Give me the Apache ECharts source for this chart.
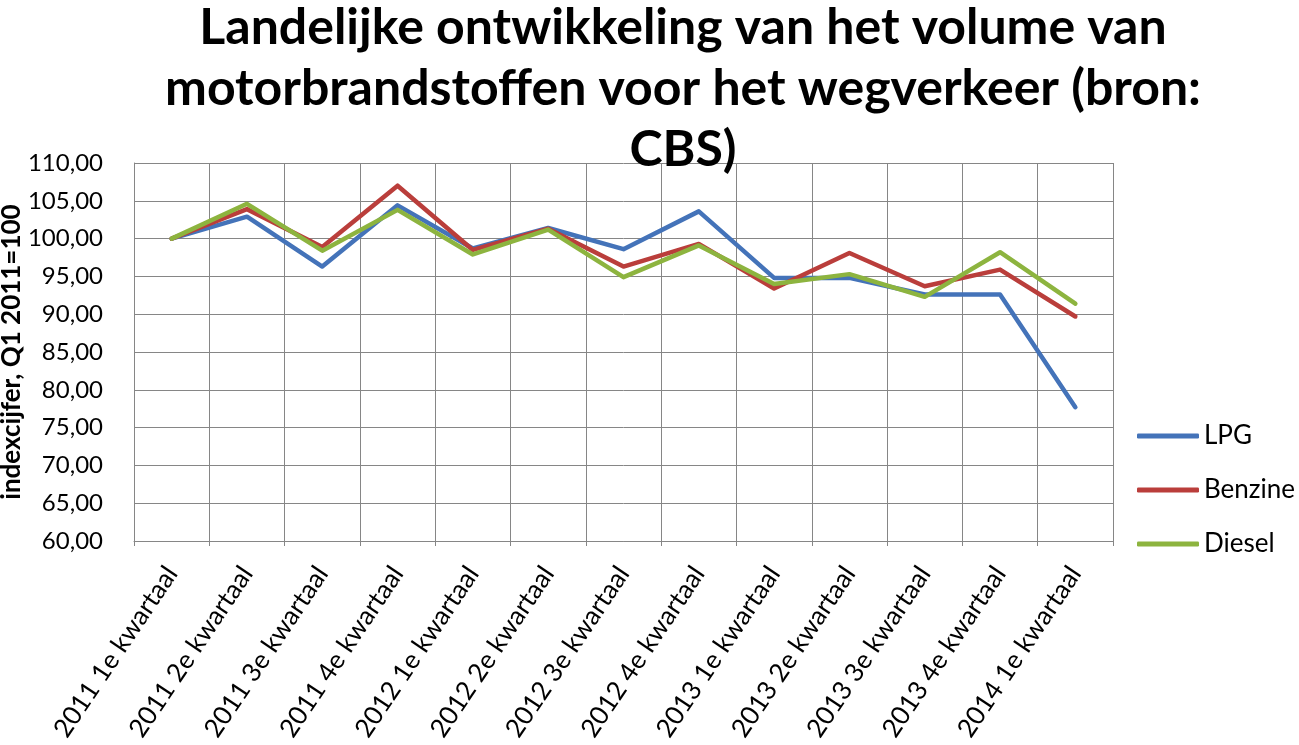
<!DOCTYPE html>
<html>
<head>
<meta charset="utf-8">
<script src="https://cdn.jsdelivr.net/npm/echarts@6/dist/echarts.min.js"></script>
<style>html,body{margin:0;padding:0;background:#fff}#c{width:1299px;height:745px}</style>
</head>
<body>
<div id="c"></div>
<script>
const categories = ['2011 1e kwartaal','2011 2e kwartaal','2011 3e kwartaal','2011 4e kwartaal','2012 1e kwartaal','2012 2e kwartaal','2012 3e kwartaal','2012 4e kwartaal','2013 1e kwartaal','2013 2e kwartaal','2013 3e kwartaal','2013 4e kwartaal','2014 1e kwartaal'];
const lpg     = [100.0, 102.9, 96.3, 104.4, 98.7, 101.4, 98.6, 103.6, 94.8, 94.8, 92.6, 92.6, 77.7];
const benzine = [100.0, 103.9, 98.9, 107.0, 98.5, 101.3, 96.3, 99.3, 93.4, 98.1, 93.7, 95.9, 89.7];
const diesel  = [100.0, 104.6, 98.4, 103.8, 97.9, 101.2, 94.9, 99.1, 94.0, 95.3, 92.3, 98.2, 91.4];
const yTicks = { min: 60, max: 110, interval: 5 };
const titleText = 'Landelijke ontwikkeling van het volume van\nmotorbrandstoffen voor het wegverkeer (bron:\nCBS)';
const yName = 'indexcijfer, Q1 2011=100';

const font = 'Lato, "Open Sans", sans-serif';
const chart = echarts.init(document.getElementById('c'), null, { renderer: 'canvas' });
const mk = (name, data, color) => ({
  name, type: 'line', data, symbol: 'none', smooth: false,
  lineStyle: { width: 4.5, color, cap: 'round', join: 'round' },
  itemStyle: { color }
});
chart.setOption({
  animation: false,
  backgroundColor: '#fff',
  title: {
    text: titleText,
    left: 678, top: -8, textAlign: 'center',
    textStyle: { fontFamily: font, fontWeight: 'bold', fontSize: 50, lineHeight: 61, color: '#000' }
  },
  legend: {
    orient: 'vertical', left: 1137, top: 422, padding: 0,
    itemWidth: 62, itemHeight: 5, itemGap: 26, icon: 'roundRect',
    textStyle: { fontFamily: font, fontSize: 26, color: '#000', lineHeight: 28 },
    data: ['LPG', 'Benzine', 'Diesel']
  },
  grid: { left: 134, top: 163, right: 186, bottom: 204, containLabel: false, outerBoundsMode: 'none' },
  xAxis: {
    type: 'category', data: categories, boundaryGap: true,
    axisLine: { show: true, lineStyle: { color: '#868686', width: 1 } },
    axisTick: { show: true, length: 5, lineStyle: { color: '#868686' } },
    splitLine: { show: true, lineStyle: { color: '#868686', width: 1 } },
    axisLabel: { rotate: 56, margin: 28, interval: 0, fontFamily: font, fontSize: 26, color: '#000' }
  },
  yAxis: {
    type: 'value', min: yTicks.min, max: yTicks.max, interval: yTicks.interval,
    name: yName, nameLocation: 'middle', nameRotate: 90, nameGap: 109, nameMoveOverlap: false,
    nameTextStyle: { fontFamily: font, fontWeight: 'bold', fontSize: 26, color: '#000' },
    axisLine: { show: true, lineStyle: { color: '#868686', width: 1 } },
    axisTick: { show: false },
    splitLine: { show: true, lineStyle: { color: '#868686', width: 1 } },
    axisLabel: { margin: 31, fontFamily: font, fontSize: 24, color: '#000',
      formatter: v => v.toFixed(2).replace('.', ',') }
  },
  series: [
    mk('LPG', lpg, '#4473B9'),
    mk('Benzine', benzine, '#BA3E3B'),
    mk('Diesel', diesel, '#8DB43F')
  ]
});
</script>
</body>
</html>
